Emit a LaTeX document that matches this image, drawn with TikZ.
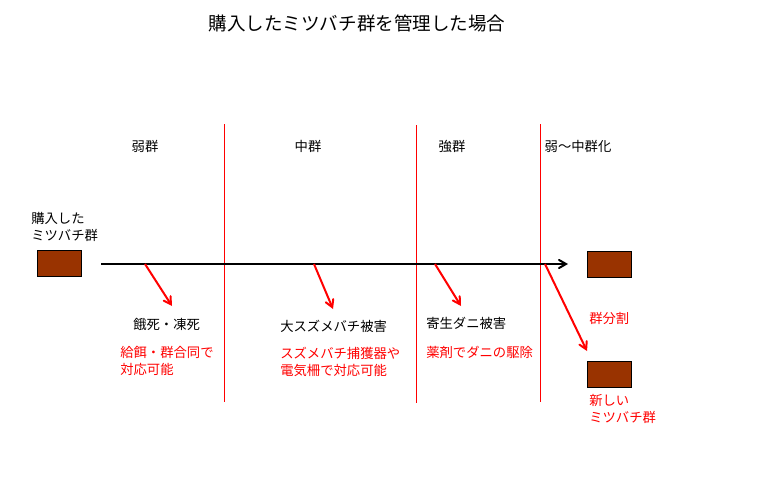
\documentclass[tikz,border=0pt]{standalone}
\usepackage{fontspec}
\setmainfont{Noto Sans CJK JP}
\usetikzlibrary{arrows}

\begin{document}
\begin{tikzpicture}[x=0.75pt, y=-0.75pt, >=angle 60,
		lbl/.style={inner sep=0pt, anchor=west, font=\fontsize{10pt}{12.75pt}\selectfont},
		note/.style={lbl, text=red, anchor=north west, align=left},
		hive/.style={draw=black, fill=hivebrown, minimum width=33pt, minimum height=19.5pt, inner sep=0pt},
		divider/.style={red, line width=0.75pt},
		hit/.style={->, red, line width=1.5pt}]
		\definecolor{hivebrown}{HTML}{993300}
		\useasboundingbox (0, 0) rectangle (770, 500);

		\node[font=\fontsize{13.9pt}{16pt}\selectfont] (title) at (357, 23) {購入したミツバチ群を管理した場合};

		% columns
		\node[lbl, anchor=center] (weak) at (145, 146) {弱群};
		\node[lbl, anchor=center] (mid) at (308, 146) {中群};
		\node[lbl, anchor=center] (strong) at (452, 146) {強群};
		\node[lbl, anchor=center] (weakmid) at (578, 146) {弱〜中群化};
		\draw[divider] (224, 124) -- (224, 402);
		\draw[divider] (416, 125) -- (416, 403);
		\draw[divider] (540, 124) -- (540, 402);

		% hives
		\node[note, text=black] (bought) at (31, 212) {購入した\\ミツバチ群};
		\node[hive] (hiveA) at (59, 263.5) {};
		\node[hive] (hiveB) at (609.5, 264) {};
		\node[hive] (hiveC) at (609.5, 374) {};

		% time line
		\coordinate (start) at (101, 264);
		\coordinate (stop) at (568, 264);
		\coordinate (t1) at (145, 264);
		\coordinate (t2) at (314, 264);
		\coordinate (t3) at (435, 264);
		\coordinate (t4) at (545, 264);
		\draw[->, line width=1.5pt] (start) -- (stop);

		% damage and remedy
		\node[lbl] (starve) at (133, 324) {餓死・凍死};
		\node[note] (feed) at (120, 346) {給餌・群合同で\\対応可能};
		\node[lbl] (hornet) at (280, 326) {大スズメバチ被害};
		\node[note] (trap) at (280, 347) {スズメバチ捕獲器や\\電気柵で対応可能};
		\node[lbl] (mite) at (426, 323) {寄生ダニ被害};
		\node[note] (drug) at (426, 346) {薬剤でダニの駆除};
		\node[lbl, text=red] (split) at (589, 318) {群分割};
		\node[note] (newhive) at (589, 394) {新しい\\ミツバチ群};

		\coordinate (e1) at (172, 306);
		\coordinate (e2) at (333, 309);
		\coordinate (e3) at (461, 306);
		\coordinate (e4) at (587, 351);
		\draw[hit] (t1) -- (e1);
		\draw[hit] (t2) -- (e2);
		\draw[hit] (t3) -- (e3);
		\draw[hit] (t4) -- (e4);
	\end{tikzpicture}
\end{document}
